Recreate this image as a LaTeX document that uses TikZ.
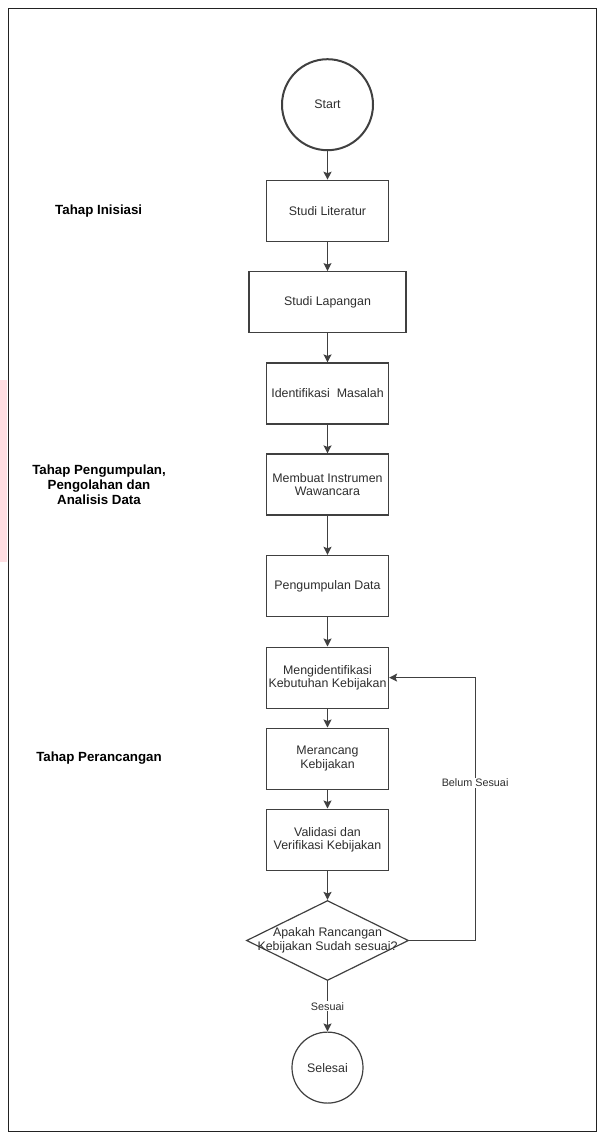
\documentclass[tikz,border=0pt]{standalone}
\usepackage{fontspec}
\setmainfont{Liberation Sans}
\usetikzlibrary{arrows.meta,shapes.geometric,positioning}
\definecolor{linegray}{RGB}{64,64,64}
\definecolor{textgray}{RGB}{45,45,45}
\definecolor{framegray}{RGB}{34,34,34}
\definecolor{strippink}{RGB}{255,222,226}
\newcommand{\boxfont}{\fontsize{12.4}{13.6}\selectfont}
\newcommand{\phasefont}{\fontsize{13.3}{15}\selectfont\bfseries}
\newcommand{\notefont}{\fontsize{10.8}{12}\selectfont}

\begin{document}
\begin{tikzpicture}[x=1pt,y=-1pt,node distance=29pt,
    flowbox/.style={draw=linegray,line width=1.2pt,minimum width=122pt,
      minimum height=61pt,inner sep=1pt,align=center,font=\boxfont,text=textgray},
    flowarrow/.style={-{Stealth[length=8pt,width=8pt,inset=1.5pt]},
      draw=linegray,line width=1.2pt},
    phase/.style={align=center,font=\phasefont},
    note/.style={fill=white,inner sep=1pt,font=\notefont,text=textgray}]
  \useasboundingbox (0,0) rectangle (597,1133);
  \fill[strippink] (0,380) rectangle (7,562);
  \draw[framegray,line width=1pt] (8.4,8.3) rectangle (596,1131.7);
  % Flow
  \node[draw=linegray,line width=2pt,circle,minimum size=91pt,inner sep=0pt,
        font=\boxfont,text=textgray] (start) at (327.5,104.7) {Start};
  \node[flowbox,below=28.5pt of start] (literatur) {Studi Literatur};
  \node[flowbox,minimum width=157pt,below=29.2pt of literatur] (lapangan) {Studi Lapangan};
  \node[flowbox,below=29.1pt of lapangan] (masalah) {Identifikasi\ \ Masalah};
  \node[flowbox,below=28.8pt of masalah] (instrumen) {Membuat Instrumen\\Wawancara};
  \node[flowbox,below=39.2pt of instrumen] (kumpul) {Pengumpulan Data};
  \node[flowbox,below=29.5pt of kumpul] (kebutuhan) {Mengidentifikasi\\Kebutuhan Kebijakan};
  \node[flowbox,below=18.8pt of kebutuhan] (rancang) {Merancang\\Kebijakan};
  \node[flowbox,below=18.8pt of rancang] (validasi) {Validasi dan\\Verifikasi Kebijakan};
  \node[draw=linegray,line width=1.2pt,diamond,minimum width=162pt,minimum height=80pt,
        inner sep=0pt,below=29.2pt of validasi,
        label={[align=center,font=\boxfont,text=textgray]center:{Apakah Rancangan\\Kebijakan Sudah sesuai?}}] (cek) {};
  \node[draw=linegray,line width=1.2pt,circle,minimum size=71pt,inner sep=0pt,
        font=\boxfont,text=textgray,below=50.4pt of cek] (selesai) {Selesai};
  \draw[flowarrow] (start) -- (literatur);
  \draw[flowarrow] (literatur) -- (lapangan);
  \draw[flowarrow] (lapangan) -- (masalah);
  \draw[flowarrow] (masalah) -- (instrumen);
  \draw[flowarrow] (instrumen) -- (kumpul);
  \draw[flowarrow] (kumpul) -- (kebutuhan);
  \draw[flowarrow] (kebutuhan) -- (rancang);
  \draw[flowarrow] (rancang) -- (validasi);
  \draw[flowarrow] (validasi) -- (cek);
  \draw[flowarrow] (cek) -- (selesai) node[note,midway] {Sesuai};
  \draw[flowarrow] (cek.east) -- ++(66pt,0) |- (kebutuhan.east)
    node[note,pos=0.3] {Belum Sesuai};
  % Phase labels
  \node[phase] (inisiasi) at (98.7,211) {Tahap Inisiasi};
  \node[phase] (pengumpulan) at (99,485) {Tahap Pengumpulan,\\Pengolahan dan\\Analisis Data};
  \node[phase] (perancangan) at (99,758.3) {Tahap Perancangan};
\end{tikzpicture}
\end{document}
